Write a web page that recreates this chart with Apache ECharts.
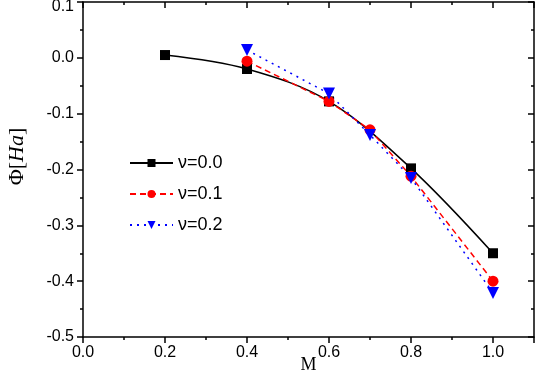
<!DOCTYPE html>
<html lang="en">
<head>
    <meta charset="UTF-8">
    <title></title>
    <script type="text/javascript" src="https://cdn.jsdelivr.net/npm/echarts@6/dist/echarts.min.js"></script>
    <style>
        body { margin: 0; }
    </style>
</head>
<body>
<div id="main" style="width: 538px;height:376px;"></div>
<script type="text/javascript">
// data
var mNu0 = [0.2, 0.4, 0.6, 0.8, 1.0];
var phiNu0 = [0.005, -0.020, -0.078, -0.198, -0.350];
var mNu1 = [0.4, 0.6, 0.7, 0.8, 1.0];
var phiNu1 = [-0.006, -0.078, -0.129, -0.212, -0.400];
var mNu2 = [0.4, 0.6, 0.7, 0.8, 1.0];
var phiNu2 = [0.014, -0.064, -0.138, -0.215, -0.421];
var names = ['ν=0.0', 'ν=0.1', 'ν=0.2'];

function pairs(xs, ys) {
    return xs.map(function (x, i) { return [x, ys[i]]; });
}

var sans = '"Liberation Sans", Arial, sans-serif';
var tickFont = { fontFamily: sans, fontSize: 16, color: '#000' };
var axisLine = { show: true, onZero: false, lineStyle: { color: '#000', width: 1.5 } };

var myChart = echarts.init(document.getElementById('main'));
var option = {
    animation: false,
    grid: { left: 83, right: 4, top: 2, bottom: 39, containLabel: false, outerBoundsMode: 'none' },
    legend: {
        orient: 'vertical',
        left: 124,
        top: 149,
        itemWidth: 43,
        itemHeight: 10,
        itemGap: 13,
        textStyle: { fontFamily: sans, fontSize: 18, color: '#000' },
        data: names
    },
    xAxis: [{
        type: 'value',
        min: 0, max: 1.1, interval: 0.2,
        name: 'M',
        nameLocation: 'middle',
        nameGap: 19,
        nameMoveOverlap: false,
        nameTextStyle: { fontFamily: 'Liberation Serif', fontSize: 18, color: '#000' },
        axisLine: axisLine,
        axisTick: { show: true, inside: false, length: 6, lineStyle: { color: '#000', width: 1.5 } },
        minorTick: { show: true, splitNumber: 2, length: 3, lineStyle: { color: '#000', width: 1.5 } },
        axisLabel: Object.assign({ margin: 8, showMaxLabel: false, formatter: function (v) { return v.toFixed(1); } }, tickFont),
        splitLine: { show: false }
    }, {
        type: 'value', position: 'top',
        min: 0, max: 1.1, interval: 0.2,
        axisLine: axisLine,
        axisTick: { show: true, inside: true, length: 6, lineStyle: { color: '#000', width: 1.5 } },
        minorTick: { show: true, splitNumber: 2, length: 3, lineStyle: { color: '#000', width: 1.5 } },
        axisLabel: { show: false },
        splitLine: { show: false }
    }],
    yAxis: [{
        type: 'value',
        min: -0.5, max: 0.1, interval: 0.1,
        name: '{p|Φ}{b|[}{i|Ha}{b|]}',
        nameLocation: 'middle',
        nameRotate: 90,
        nameGap: 55,
        nameMoveOverlap: false,
        nameTextStyle: {
            padding: [0, 0, 0, 26],
            rich: {
                p: { fontFamily: 'Liberation Serif', fontSize: 22, color: '#000' },
                b: { fontFamily: 'Liberation Serif', fontSize: 22, color: '#000' },
                i: { fontFamily: 'Liberation Serif', fontStyle: 'italic', fontSize: 22, color: '#000' }
            }
        },
        axisLine: axisLine,
        axisTick: { show: true, inside: false, length: 6, lineStyle: { color: '#000', width: 1.5 } },
        minorTick: { show: true, splitNumber: 2, length: 3, lineStyle: { color: '#000', width: 1.5 } },
        axisLabel: Object.assign({
            margin: 9,
            verticalAlignMaxLabel: 'top',
            formatter: function (v) {
                // top label kept inside the canvas
                return v > 0.05 ? '{top|' + v.toFixed(1) + '}' : v.toFixed(1);
            },
            rich: { top: { fontFamily: sans, fontSize: 16, color: '#000', lineHeight: 10 } }
        }, tickFont),
        splitLine: { show: false }
    }, {
        type: 'value', position: 'right',
        min: -0.5, max: 0.1, interval: 0.1,
        axisLine: axisLine,
        axisTick: { show: true, inside: true, length: 6, lineStyle: { color: '#000', width: 1.5 } },
        minorTick: { show: true, splitNumber: 2, length: 3, lineStyle: { color: '#000', width: 1.5 } },
        axisLabel: { show: false },
        splitLine: { show: false }
    }],
    series: [{
        name: names[0],
        type: 'line',
        smooth: 0.35,
        data: pairs(mNu0, phiNu0),
        symbol: 'rect',
        symbolSize: 10,
        itemStyle: { color: '#000' },
        lineStyle: { color: '#000', width: 1.5, type: 'solid' }
    }, {
        name: names[1],
        type: 'line',
        data: pairs(mNu1, phiNu1),
        symbol: 'circle',
        symbolSize: 11,
        itemStyle: { color: '#ff0000' },
        lineStyle: { color: '#ff0000', width: 1.5, type: [6, 4] }
    }, {
        name: names[2],
        type: 'line',
        data: pairs(mNu2, phiNu2),
        symbol: 'triangle',
        symbolRotate: 180,
        symbolSize: 12,
        itemStyle: { color: '#0000ff' },
        lineStyle: { color: '#0000ff', width: 1.5, type: [2, 5] }
    }]
};
myChart.setOption(option);
</script>
</body>
</html>
